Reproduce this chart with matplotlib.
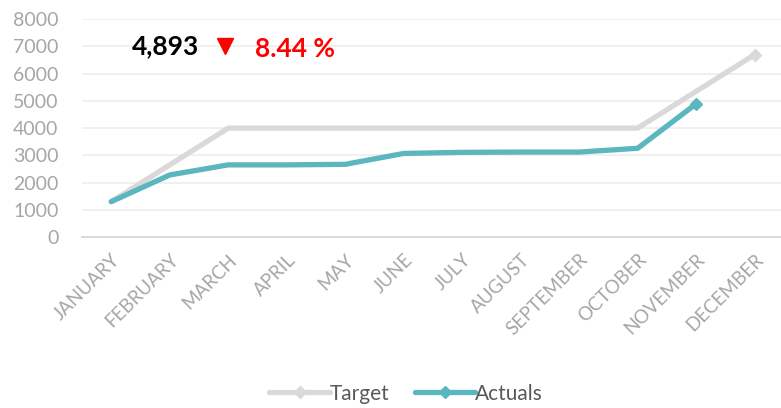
import matplotlib
matplotlib.use('Agg')
import matplotlib.pyplot as plt
from matplotlib.lines import Line2D

plt.rcParams['font.family'] = ['Lato', 'DejaVu Sans']

months = ['JANUARY', 'FEBRUARY', 'MARCH', 'APRIL', 'MAY', 'JUNE', 'JULY',
          'AUGUST', 'SEPTEMBER', 'OCTOBER', 'NOVEMBER', 'DECEMBER']
target = [1300, 2650, 4000, 4000, 4000, 4000, 4000, 4000, 4000, 4000, 5350, 6700]
actuals = [1300, 2280, 2650, 2650, 2670, 3070, 3110, 3120, 3120, 3260, 4893]
y_ticks = [0, 1000, 2000, 3000, 4000, 5000, 6000, 7000, 8000]
kpi_value = '4,893'
kpi_change = '8.44 %'

target_col = '#D9D9D9'
actual_col = '#5AB6BF'

fig = plt.figure(figsize=(7.81, 4.08), dpi=100)
ax = fig.add_axes([0.105, 0.419, 0.895, 0.534])

x_t = list(range(len(target)))
x_a = list(range(len(actuals)))
ax.plot(x_t, target, color=target_col, linewidth=3.8, solid_capstyle='round',
        marker='D', markersize=6, markevery=[len(target) - 1])
ax.plot(x_a, actuals, color=actual_col, linewidth=3.8, solid_capstyle='round',
        marker='D', markersize=6, markevery=[len(actuals) - 1])

ax.set_ylim(0, 8000)
ax.set_xlim(-0.5, 11.45)
ax.set_yticks(y_ticks)
ax.set_yticklabels([str(v) for v in y_ticks], fontsize=14, color='#A6A6A6')
ax.set_xticks(x_t)
ax.set_xticklabels(months, rotation=45, ha='right', rotation_mode='anchor',
                   fontsize=13.5, color='#A6A6A6')
ax.tick_params(length=0)
ax.tick_params(axis='y', pad=17)
ax.tick_params(axis='x', pad=10)

ax.grid(axis='y', color='#EFEFEF', linewidth=1.3)
ax.set_axisbelow(True)
for s in ['top', 'right', 'left']:
    ax.spines[s].set_visible(False)
ax.spines['bottom'].set_color('#D9D9D9')
ax.spines['bottom'].set_linewidth(1.3)

ax.text(0.36, 7000, kpi_value, fontsize=19, fontweight='bold', color='black',
        va='center', ha='left')
ax.plot([1.95], [7000], marker='v', color='#FF0000', markersize=12, linestyle='none')
ax.text(2.45, 6900, kpi_change, fontsize=19, fontweight='bold', color='#FF0000',
        va='center', ha='left')

handles = [Line2D([], [], color=target_col, linewidth=3.8, marker='D', markersize=6,
                  markevery=[1], solid_capstyle='round'),
           Line2D([], [], color=actual_col, linewidth=3.8, marker='D', markersize=6,
                  markevery=[1], solid_capstyle='round')]
leg = fig.legend(handles, ['Target', 'Actuals'], loc='lower center',
                 bbox_to_anchor=(0.52, -0.035), ncol=2, frameon=False, fontsize=15,
                 handlelength=2.9, handletextpad=0.0, columnspacing=1.2)
for t in leg.get_texts():
    t.set_color('#595959')

fig.savefig('out.png', dpi=100)
